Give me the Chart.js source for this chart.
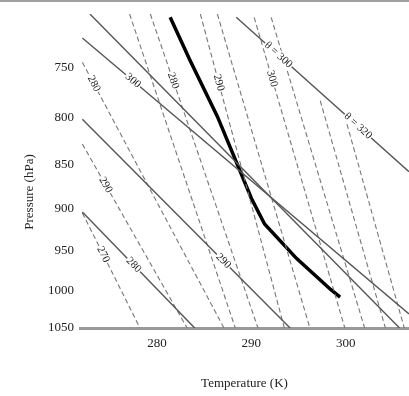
<!DOCTYPE html>
<html>
<head>
<meta charset="utf-8">
<script src="https://cdn.jsdelivr.net/npm/chart.js@4.4.1/dist/chart.umd.min.js"></script>
<style>
  html, body { margin: 0; padding: 0; background: #fff; }
  #wrap { width: 409px; height: 396px; position: relative; }
</style>
</head>
<body>
<div id="wrap"><canvas id="chart"></canvas></div>
<script>
// --- axis ticks ---
const pressureTicks = [750, 800, 850, 900, 950, 1000, 1050];
const temperatureTicks = [280, 290, 300];

// --- sounding (thick line), temperature K / pressure hPa ---
const soundingT = [281.4, 283.5, 286.4, 290.0, 291.4, 294.8, 298.4, 299.4];
const soundingP = [703, 743, 799, 888, 918, 960, 999, 1009];

// --- solid reference lines (dry adiabats) ---
const dryT = [
    [288.4, 306.7],
    [272.9, 305.7],
    [272.1, 294.1],
    [272.1, 284.0],
    [272.1, 306.7]
];
const dryP = [
    [703, 858],
    [700, 1050],
    [802, 1050],
    [904, 1050],
    [722, 1031]
];

// --- dashed reference lines ---
const moistT = [
    [272.1, 287.1],
    [272.1, 283.2],
    [272.1, 278.2],
    [277.1, 288.3],
    [279.3, 290.7],
    [284.6, 293.5],
    [286.4, 296.2],
    [290.3, 299.9],
    [292.1, 302.0],
    [297.3, 304.2],
    [299.9, 306.2]
];
const moistP = [
    [745, 1050],
    [828, 1050],
    [905, 1050],
    [700, 1050],
    [700, 1050],
    [700, 1050],
    [700, 1050],
    [703, 1050],
    [703, 1050],
    [783, 1050],
    [799, 1050]
];

// --- labels written along the lines ---
const dryLabelText = ["θ = 300", "θ = 320", "300", "290", "280"];
const dryLabelLine = [0, 0, 4, 2, 3];
const dryLabelP = [738, 809, 763, 963, 968];

const moistLabelText = ["280", "290", "270", "280", "290", "300"];
const moistLabelLine = [0, 1, 2, 4, 5, 7];
const moistLabelP = [766, 873, 955, 763, 765, 761];

// ===================================

function toPoints(ts, ps) {
    return ts.map((t, i) => ({ x: t, y: ps[i] }));
}

function pointAlong(chart, ts, ps, p) {
    const xs = chart.scales.x, ys = chart.scales.y;
    const px = ts.map(v => xs.getPixelForValue(v));
    const py = ps.map(v => ys.getPixelForValue(v));
    const y = ys.getPixelForValue(p);
    for (let i = 0; i < px.length - 1; i++) {
        if ((y - py[i]) * (y - py[i + 1]) <= 0) {
            const f = (y - py[i]) / (py[i + 1] - py[i]);
            return {
                x: px[i] + f * (px[i + 1] - px[i]),
                y: y,
                angle: Math.atan2(py[i + 1] - py[i], px[i + 1] - px[i])
            };
        }
    }
    return null;
}

const lineLabels = {
    id: 'lineLabels',
    afterDatasetsDraw(chart) {
        const ctx = chart.ctx;
        const draw = (text, pos, size) => {
            if (!pos) return;
            ctx.save();
            ctx.translate(pos.x, pos.y);
            ctx.rotate(pos.angle);
            ctx.font = size + 'px "Liberation Serif", serif';
            const w = ctx.measureText(text).width;
            ctx.fillStyle = '#fff';
            ctx.fillRect(-w / 2 - 1, -5, w + 2, 10);
            ctx.fillStyle = '#222';
            ctx.textAlign = 'center';
            ctx.textBaseline = 'middle';
            ctx.fillText(text, 0, 0);
            ctx.restore();
        };
        dryLabelText.forEach((txt, i) => {
            const k = dryLabelLine[i];
            draw(txt, pointAlong(chart, dryT[k], dryP[k], dryLabelP[i]), 11);
        });
        moistLabelText.forEach((txt, i) => {
            const k = moistLabelLine[i];
            draw(txt, pointAlong(chart, moistT[k], moistP[k], moistLabelP[i]), 11);
        });
    },
    afterDraw(chart) {
        const ctx = chart.ctx;
        ctx.save();
        // frame line at the very top
        ctx.fillStyle = '#a0a0a0';
        ctx.fillRect(0, 0, chart.width, 2);
        // y axis title
        ctx.translate(30, 192);
        ctx.rotate(-Math.PI / 2);
        ctx.font = '13px "Liberation Serif", serif';
        ctx.fillStyle = '#222';
        ctx.textAlign = 'center';
        ctx.textBaseline = 'middle';
        ctx.fillText('Pressure (hPa)', 0, 0);
        ctx.restore();
    }
};

const datasets = [];
dryT.forEach((ts, i) => {
    datasets.push({
        data: toPoints(ts, dryP[i]),
        showLine: true, borderColor: '#555', borderWidth: 1.4,
        pointRadius: 0, fill: false
    });
});
moistT.forEach((ts, i) => {
    datasets.push({
        data: toPoints(ts, moistP[i]),
        showLine: true, borderColor: '#777', borderWidth: 1.1,
        borderDash: [5, 3], pointRadius: 0, fill: false
    });
});
datasets.push({
    data: toPoints(soundingT, soundingP),
    showLine: true, borderColor: '#000', borderWidth: 3.5,
    pointRadius: 0, fill: false
});

const tickFont = { family: '"Liberation Serif", serif', size: 13 };

new Chart(document.getElementById('chart'), {
    type: 'scatter',
    data: { datasets: datasets },
    options: {
        responsive: true,
        maintainAspectRatio: false,
        animation: false,
        layout: { padding: { top: 14, right: 0, left: 0, bottom: 0 } },
        plugins: { legend: { display: false }, tooltip: { enabled: false } },
        scales: {
            x: {
                type: 'linear',
                position: 'bottom',
                min: 271.85,
                max: 306.7,
                grid: { display: false, drawTicks: false },
                border: { display: true, color: '#999', width: 3 },
                ticks: { font: tickFont, color: '#222', padding: 8, autoSkip: false, maxRotation: 0 },
                title: { display: true, text: 'Temperature (K)', font: tickFont, color: '#222', padding: { top: 0, bottom: 5 } },
                afterBuildTicks: s => { s.ticks = temperatureTicks.map(v => ({ value: v })); },
                afterFit: s => { s.height = 68; }
            },
            y: {
                type: 'logarithmic',
                reverse: true,
                min: 700,
                max: 1050,
                grid: { display: false, drawTicks: false },
                border: { display: false },
                ticks: { font: tickFont, color: '#222', padding: 6, autoSkip: false, callback: v => String(v) },
                afterBuildTicks: s => { s.ticks = pressureTicks.map(v => ({ value: v })); },
                afterFit: s => { s.width = 80; }
            }
        }
    },
    plugins: [lineLabels]
});
</script>
</body>
</html>
